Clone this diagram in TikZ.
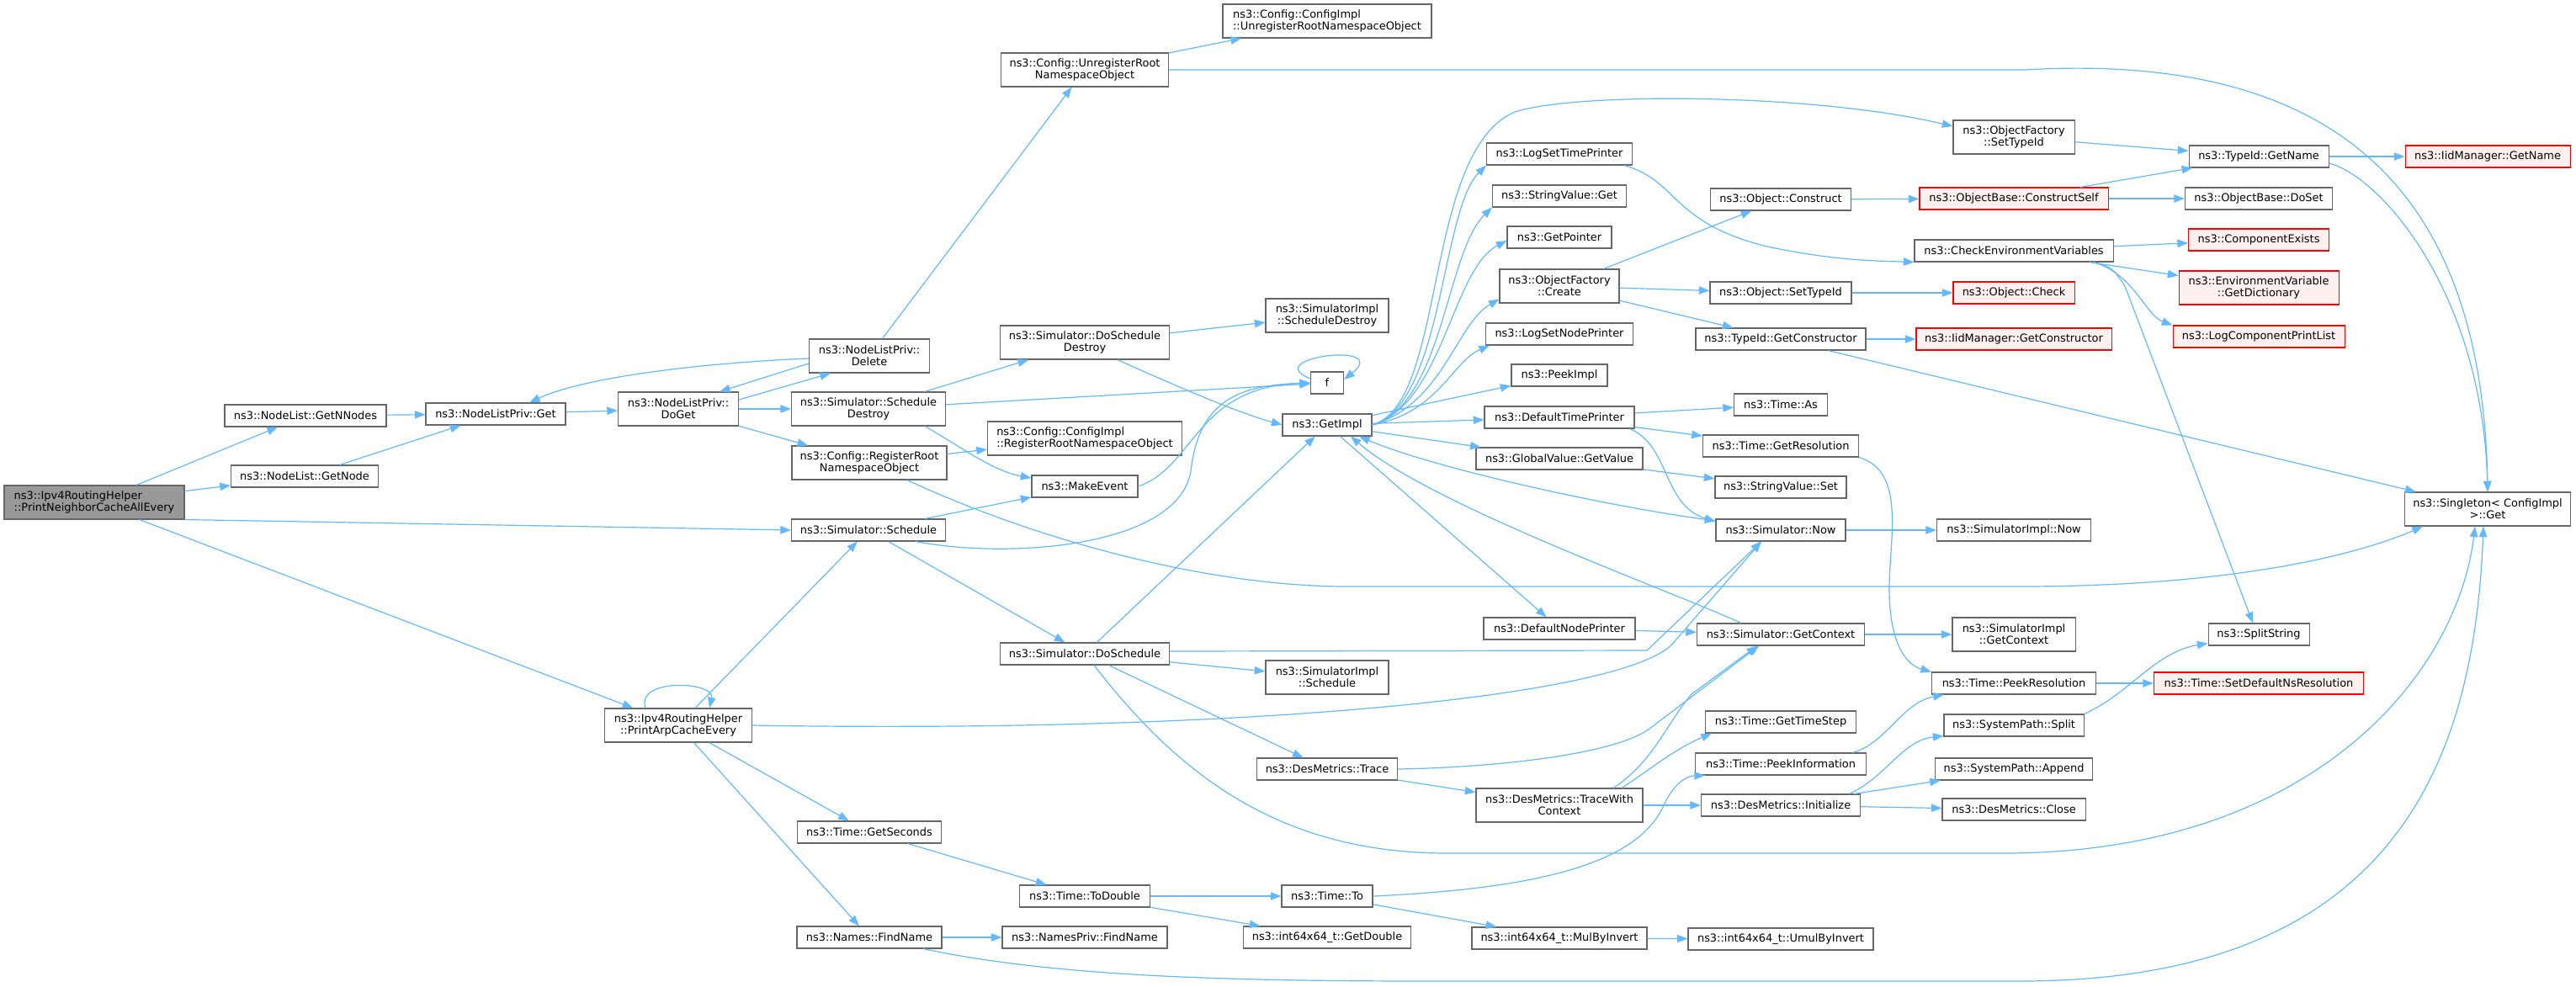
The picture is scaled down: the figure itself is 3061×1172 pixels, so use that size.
\documentclass[tikz,border=0pt]{standalone}
\usepackage{fontspec}
\setmainfont{DejaVu Sans}
\usetikzlibrary{arrows.meta,calc}
\definecolor{callblue}{HTML}{63B8FF}
\definecolor{boxgrey}{HTML}{666666}
\definecolor{rootgrey}{HTML}{999999}
\definecolor{missred}{HTML}{FF0000}
\definecolor{missfill}{HTML}{FFF0F0}
\begin{document}
\begin{tikzpicture}[x=0.75pt,y=-0.75pt,font=\fontsize{9.7}{10.6}\selectfont,
  fn/.style={draw=boxgrey,fill=white,line width=0.8pt,inner xsep=2pt,inner ysep=1pt,minimum height=19.5pt,align=center},
  fn2/.style={fn,minimum height=30pt},
  boxw/.style={minimum width=#1*0.75pt},
  rootfn/.style={fn2,fill=rootgrey,align=left},
  redfn/.style={fn,draw=missred,fill=missfill},
  call/.style={draw=callblue,line width=0.9pt,-{Triangle[length=9.5pt,width=7pt]}},
  mutual/.style={call,{Triangle[length=9.5pt,width=7pt]}-{Triangle[length=9.5pt,width=7pt]}}]

\useasboundingbox (0,0) rectangle (3061,1172);

\node[rootfn,boxw=214] (root) at (112,597) {ns3::Ipv4RoutingHelper\\::PrintNeighborCacheAllEvery};
\node[fn,boxw=192] (getnnodes) at (363,494) {ns3::NodeList::GetNNodes};
\node[fn,boxw=175] (getnode) at (362,566) {ns3::NodeList::GetNode};
\node[fn,boxw=166] (privget) at (589,492) {ns3::NodeListPriv::Get};
\node[fn2,boxw=143] (doget) at (806,486) {ns3::NodeListPriv::\\DoGet};
\node[fn2,boxw=175] (arp) at (806,862) {ns3::Ipv4RoutingHelper\\::PrintArpCacheEvery};
\node[fn2,boxw=143] (delete) at (1033,423) {ns3::NodeListPriv::\\Delete};
\node[fn2,boxw=183] (schdestroy) at (1032,486) {ns3::Simulator::Schedule\\Destroy};
\node[fn2,boxw=184] (regroot) at (1033,550) {ns3::Config::RegisterRoot\\NamespaceObject};
\node[fn,boxw=183] (schedule) at (1032,630) {ns3::Simulator::Schedule};
\node[fn,boxw=171] (getseconds) at (1033,989) {ns3::Time::GetSeconds};
\node[fn,boxw=172] (findname) at (1033,1114) {ns3::Names::FindName};
\node[fn2,boxw=199] (unregroot) at (1289,83) {ns3::Config::UnregisterRoot\\NamespaceObject};
\node[fn2,boxw=201] (doschdestroy) at (1289,407) {ns3::Simulator::DoSchedule\\Destroy};
\node[fn2,boxw=231,align=left] (implregroot) at (1289,521) {ns3::Config::ConfigImpl\\::RegisterRootNamespaceObject};
\node[fn,boxw=126] (makeevent) at (1289,578) {ns3::MakeEvent};
\node[fn,boxw=201] (doschedule) at (1289,777) {ns3::Simulator::DoSchedule};
\node[fn,boxw=155] (todouble) at (1289,1065) {ns3::Time::ToDouble};
\node[fn,boxw=196] (privfind) at (1289,1114) {ns3::NamesPriv::FindName};
\node[fn2,boxw=248,align=left] (implunreg) at (1577,25) {ns3::Config::ConfigImpl\\::UnregisterRootNamespaceObject};
\node[fn2,boxw=146] (impldestroy) at (1577,375) {ns3::SimulatorImpl\\::ScheduleDestroy};
\node[fn,boxw=39] (f) at (1577,455) {f};
\node[fn,boxw=106] (getimpl) at (1577,505) {ns3::GetImpl};
\node[fn2,boxw=146] (implschedule) at (1577,805) {ns3::SimulatorImpl\\::Schedule};
\node[fn,boxw=167] (trace) at (1577,914) {ns3::DesMetrics::Trace};
\node[fn,boxw=108] (timeto) at (1577,1065) {ns3::Time::To};
\node[fn,boxw=199] (getdouble) at (1577,1114) {ns3::int64x64\_t::GetDouble};
\node[fn,boxw=173] (logtime) at (1853,183) {ns3::LogSetTimePrinter};
\node[fn,boxw=159] (strget) at (1853,233) {ns3::StringValue::Get};
\node[fn,boxw=124] (getpointer) at (1853,282) {ns3::GetPointer};
\node[fn2,boxw=142] (create) at (1853,340) {ns3::ObjectFactory\\::Create};
\node[fn,boxw=175] (lognode) at (1853,397) {ns3::LogSetNodePrinter};
\node[fn,boxw=114] (peekimpl) at (1853,446) {ns3::PeekImpl};
\node[fn,boxw=178] (deftime) at (1853,496) {ns3::DefaultTimePrinter};
\node[fn,boxw=198] (getvalue) at (1853,545) {ns3::GlobalValue::GetValue};
\node[fn,boxw=180] (defnode) at (1853,747) {ns3::DefaultNodePrinter};
\node[fn2,boxw=198] (tracectx) at (1853,957) {ns3::DesMetrics::TraceWith\\Context};
\node[fn,boxw=208] (mulinv) at (1853,1115) {ns3::int64x64\_t::MulByInvert};
\node[fn2,boxw=144] (settypeid) at (2393,163) {ns3::ObjectFactory\\::SetTypeId};
\node[fn,boxw=167] (construct) at (2116,237) {ns3::Object::Construct};
\node[fn,boxw=168] (objsettype) at (2116,348) {ns3::Object::SetTypeId};
\node[fn,boxw=202] (getctor) at (2116,403) {ns3::TypeId::GetConstructor};
\node[fn,boxw=111] (timeas) at (2116,481) {ns3::Time::As};
\node[fn,boxw=185] (getres) at (2116,530) {ns3::Time::GetResolution};
\node[fn,boxw=156] (strset) at (2116,579) {ns3::StringValue::Set};
\node[fn,boxw=154] (now) at (2116,630) {ns3::Simulator::Now};
\node[fn,boxw=199] (getctx) at (2116,754) {ns3::Simulator::GetContext};
\node[fn,boxw=179] (timestep) at (2116,858) {ns3::Time::GetTimeStep};
\node[fn,boxw=203] (peekinfo) at (2116,908) {ns3::Time::PeekInformation};
\node[fn,boxw=189] (initialize) at (2116,957) {ns3::DesMetrics::Initialize};
\node[fn,boxw=220] (umul) at (2116,1116) {ns3::int64x64\_t::UmulByInvert};
\node[redfn,boxw=224] (constructself) at (2393,236) {ns3::ObjectBase::ConstructSelf};
\node[fn,boxw=236] (checkenv) at (2393,298) {ns3::CheckEnvironmentVariables};
\node[redfn,boxw=144] (check) at (2393,348) {ns3::Object::Check};
\node[redfn,boxw=232] (iidctor) at (2393,403) {ns3::IidManager::GetConstructor};
\node[fn,boxw=183] (implnow) at (2393,630) {ns3::SimulatorImpl::Now};
\node[fn2,boxw=146] (implctx) at (2393,754) {ns3::SimulatorImpl\\::GetContext};
\node[fn,boxw=195] (peekres) at (2393,812) {ns3::Time::PeekResolution};
\node[fn,boxw=166] (split) at (2393,862) {ns3::SystemPath::Split};
\node[fn,boxw=187] (append) at (2393,914) {ns3::SystemPath::Append};
\node[fn,boxw=170] (close) at (2393,962) {ns3::DesMetrics::Close};
\node[fn,boxw=166] (getname) at (2684,186) {ns3::TypeId::GetName};
\node[fn,boxw=175] (doset) at (2684,236) {ns3::ObjectBase::DoSet};
\node[redfn,boxw=167] (compexists) at (2684,285) {ns3::ComponentExists};
\node[redfn,fn2,draw=missred,fill=missfill,boxw=190] (getdict) at (2684,342) {ns3::EnvironmentVariable\\::GetDictionary};
\node[redfn,boxw=204] (printlist) at (2684,400) {ns3::LogComponentPrintList};
\node[fn,boxw=120] (splitstring) at (2684,754) {ns3::SplitString};
\node[redfn,boxw=249] (setdefres) at (2684,812) {ns3::Time::SetDefaultNsResolution};
\node[redfn,boxw=196] (iidname) at (2956,186) {ns3::IidManager::GetName};
\node[fn2,boxw=197] (singleton) at (2956,605) {ns3::Singleton< ConfigImpl\\>::Get};

\path (root) edge[call] (getnnodes);
\path (root) edge[call] (getnode);
\path (root.south east) edge[call] (schedule.west);
\path (root) edge[call] (arp);
\path (getnnodes) edge[call] (privget);
\path (getnode) edge[call] (privget);
\path (privget) edge[call] (doget);
\path ($(doget.east)+(0,-11)$) edge[call] ($(delete.south west)+(26,0)$);
\path ($(delete.west)+(0,9)$) edge[call] ($(doget.north)+(49,0)$);
\path (doget) edge[call] (schdestroy);
\path (doget) edge[call] (regroot);
\path (delete) edge[call] (unregroot);
\path (unregroot) edge[call] (implunreg);
\path (schdestroy) edge[call] (doschdestroy);
\path (schdestroy) edge[call] (f);
\path (regroot) edge[call] (implregroot);
\path (doschdestroy) edge[call] (impldestroy);
\path (schedule) edge[call] (makeevent);
\path (schedule) edge[call] (doschedule);
\path (arp) edge[call] (schedule);
\path (arp) edge[call] (getseconds);
\path (arp) edge[call] (findname);
\path (doschedule) edge[call] (getimpl);
\path (doschedule) edge[call] (implschedule);
\path (doschedule) edge[call] (trace);
\path (findname) edge[call] (privfind);
\path (getseconds) edge[call] (todouble);
\path (todouble) edge[call] (timeto);
\path (todouble) edge[call] (getdouble);
\path (timeto) edge[call] (mulinv);
\path (mulinv) edge[call] (umul);
\path (getimpl) edge[call] (peekimpl);
\path (getimpl) edge[call] (deftime);
\path (getimpl) edge[call] (getvalue);
\path (getimpl) edge[call] (defnode);
\path (deftime) edge[call] (timeas);
\path (deftime) edge[call] (getres);
\path (getvalue) edge[call] (strset);
\path (defnode) edge[call] (getctx);
\path (trace) edge[call] (tracectx);
\path (tracectx) edge[call] (initialize);
\path (now) edge[call] (implnow);
\path (getctx) edge[call] (implctx);
\path (peekres) edge[call] (setdefres);
\path (initialize) edge[call] (append);
\path (initialize) edge[call] (close);
\path (create) edge[call] (construct);
\path (create) edge[call] (objsettype);
\path (create) edge[call] (getctor);
\path (construct) edge[call] (constructself);
\path (constructself) edge[call] (getname);
\path (constructself) edge[call] (doset);
\path (settypeid) edge[call] (getname);
\path (getname) edge[call] (iidname);
\path (getctor) edge[call] (singleton);
\path (objsettype) edge[call] (check);
\path (getctor) edge[call] (iidctor);
\path (checkenv) edge[call] (compexists);
\path (checkenv) edge[call] (getdict);

\draw[call] ($(arp.north)+(-39,0)$) .. controls (755,805) and (850,810) .. ($(arp.north)+(37,0)$);
\draw[call] ($(f.west)+(0,-5)$) .. controls (1495,425) and (1655,405) .. ($(f.east)+(0,-4)$);
\draw[call] ($(delete.west)+(0,3)$) .. controls (820,432) and (690,450) .. ($(privget.north)+(40,0)$);
\draw[call] (unregroot.east) -- (2406,83) .. controls (2800,60) and (2950,250) .. (singleton.north);
\draw[call] ($(schdestroy.south)+(67,0)$) .. controls (1140,530) and (1180,560) .. ($(makeevent.west)+(0,-10)$);
\draw[call] ($(regroot.south)+(45,0)$) .. controls (1250,650) and (1450,697) .. (1600,697) -- (2400,697) .. controls (2650,697) and (2800,660) .. ($(singleton.south west)+(22,0)$);
\draw[call] ($(doschdestroy.south)+(39,0)$) .. controls (1400,460) and (1470,490) .. (getimpl.west);
\draw[call] (makeevent.east) .. controls (1420,555) and (1420,460) .. (f.west);
\draw[call] ($(schedule.south east)+(-36,0)$) .. controls (1200,665) and (1400,650) .. (1415,560) .. controls (1425,470) and (1480,458) .. (f.west);
\draw[call] (arp.east) .. controls (1500,872) and (1945,825) .. (1990,762) -- ($(now.south)+(-23,0)$);
\draw[call] ($(doschedule.east)+(0,-3)$) -- (1957,773) -- ($(now.south)+(-23,0)$);
\draw[call] ($(doschedule.south)+(11,0)$) .. controls (1400,920) and (1520,1014) .. (1720,1014) -- (2380,1014) .. controls (2750,1014) and (2920,800) .. ($(singleton.south)+(-15,0)$);
\draw[call] ($(findname.south)+(64,0)$) .. controls (1250,1160) and (1450,1166) .. (1700,1166) -- (2400,1166) .. controls (2850,1166) and (2940,900) .. ($(singleton.south)+(-5,0)$);
\draw[call] (getimpl.east) .. controls (1720,480) and (1690,180) .. (1800,133) .. controls (1870,110) and (2150,110) .. ($(settypeid.west)+(0,-13)$);
\draw[call] (getimpl.east) .. controls (1715,480) and (1712,250) .. (logtime.south west);
\draw[call] (getimpl.east) .. controls (1715,480) and (1718,300) .. (strget.south west);
\draw[call] (getimpl.east) .. controls (1715,480) and (1725,320) .. ($(getpointer.west)+(0,4)$);
\draw[call] (getimpl.east) .. controls (1715,480) and (1730,385) .. ($(create.south west)+(0,-5)$);
\draw[call] (getimpl.east) .. controls (1710,490) and (1725,430) .. ($(lognode.south west)+(5,0)$);
\draw[mutual] ($(now.west)+(0,-11)$) .. controls (1900,600) and (1700,555) .. ($(getimpl.south)+(38,0)$);
\draw[call] ($(getctx.north)+(-47,0)$) .. controls (1980,700) and (1700,600) .. ($(getimpl.south)+(28,0)$);
\draw[call] ($(deftime.south east)+(-6,0)$) .. controls (1985,530) and (1975,600) .. ($(now.west)+(0,-10)$);
\draw[call] (trace.east) .. controls (1780,912) and (1920,896) .. (1960,866) -- ($(getctx.south)+(-26,0)$);
\draw[call] ($(tracectx.north)+(64,0)$) .. controls (1965,905) and (1980,860) .. (2010,825) -- ($(getctx.south)+(-28,0)$);
\draw[call] ($(tracectx.north)+(74,0)$) .. controls (1960,915) and (1990,890) .. ($(timestep.south west)+(8,0)$);
\draw[call] (timeto.east) .. controls (1850,1055) and (1950,1020) .. (1978,955) .. controls (1990,930) and (2005,922) .. ($(peekinfo.south west)+(12,0)$);
\draw[call] ($(peekinfo.north east)+(-17,0)$) .. controls (2240,885) and (2260,835) .. ($(peekres.south west)+(15,0)$);
\draw[call] (getres.south east) .. controls (2265,560) and (2245,640) .. (2245,700) .. controls (2245,765) and (2265,790) .. (peekres.north west);
\draw[call] (split.north east) .. controls (2530,825) and (2560,775) .. ($(splitstring.south west)+(0,-3)$);
\draw[call] ($(checkenv.south east)+(-24,0)$) .. controls (2510,318) .. (2525,340) -- ($(splitstring.north)+(-7,0)$);
\draw[call] ($(checkenv.south east)+(-24,0)$) .. controls (2535,325) and (2550,375) .. (printlist.north west);
\draw[call] ($(initialize.north east)+(-14,0)$) .. controls (2240,925) and (2260,880) .. ($(split.south west)+(0,-1)$);
\draw[call] ($(logtime.south east)+(-10,0)$) .. controls (1995,215) and (1985,265) .. (2100,293) .. controls (2180,310) and (2230,310) .. (checkenv.south west);
\draw[call] ($(getname.east)+(0,8)$) .. controls (2830,210) and (2950,350) .. (singleton.north);
\end{tikzpicture}
\end{document}
